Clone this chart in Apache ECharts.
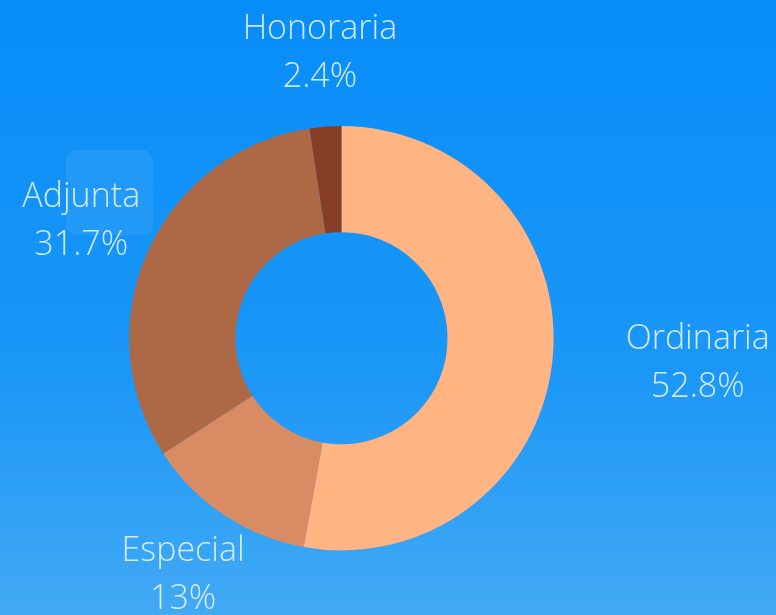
<!DOCTYPE html>
<html>
<head>
<meta charset="utf-8">
<style>
  html, body { margin: 0; padding: 0; }
  #main { width: 776px; height: 615px; }
</style>
<script src="https://cdn.jsdelivr.net/npm/echarts@6/dist/echarts.min.js"></script>
</head>
<body>
<div id="main"></div>
<script>
var categories = ['Ordinaria', 'Especial', 'Adjunta', 'Honoraria'];
var values = [52.8, 13, 31.7, 2.4];
var colors = ['#ffb482', '#d98c63', '#ad6845', '#863f26'];

var chart = echarts.init(document.getElementById('main'));

var centerPct = [0.44, 0.55];
var outerPct = 0.69;
var labelGap = 1.345; // label anchor radius relative to outer radius

var total = values.reduce(function (a, b) { return a + b; }, 0);

function midAngle(i) {
  var before = 0;
  for (var k = 0; k < i; k++) before += values[k];
  return (before + values[i] / 2) / total * Math.PI * 2;
}

var data = categories.map(function (name, i) {
  return { name: name, value: values[i], itemStyle: { color: colors[i] } };
});

var option = {
  backgroundColor: {
    type: 'linear', x: 0, y: 0, x2: 0, y2: 1,
    colorStops: [
      { offset: 0, color: '#078df9' },
      { offset: 0.6, color: '#1b97f7' },
      { offset: 1, color: '#42a9f4' }
    ]
  },
  graphic: [{
    type: 'rect',
    shape: { x: 66, y: 150, width: 87, height: 85, r: 10 },
    style: { fill: 'rgba(255,255,255,0.07)' },
    silent: true
  }],
  series: [{
    type: 'pie',
    center: [centerPct[0] * 100 + '%', centerPct[1] * 100 + '%'],
    radius: ['34.5%', outerPct * 100 + '%'],
    startAngle: 90,
    clockwise: true,
    avoidLabelOverlap: false,
    silent: true,
    data: data,
    label: {
      show: true,
      position: 'outside',
      formatter: '{b}\n{c}%',
      color: 'rgba(225,242,255,0.92)',
      fontFamily: 'Open Sans',
      fontWeight: 300,
      fontSize: 34,
      lineHeight: 48
    },
    labelLine: { show: false },
    labelLayout: function (params) {
      var w = chart.getWidth(), h = chart.getHeight();
      var cx = w * centerPct[0], cy = h * centerPct[1];
      var r = Math.min(w, h) / 2 * outerPct * labelGap;
      var a = midAngle(params.dataIndex);
      var x = cx + r * Math.sin(a);
      var y = cy - r * Math.cos(a);
      if (Math.sin(a) > 0.5) x += params.labelRect.width / 2;
      return { x: x, y: y, align: 'center', verticalAlign: 'middle' };
    }
  }]
};

chart.setOption(option);
</script>
</body>
</html>
